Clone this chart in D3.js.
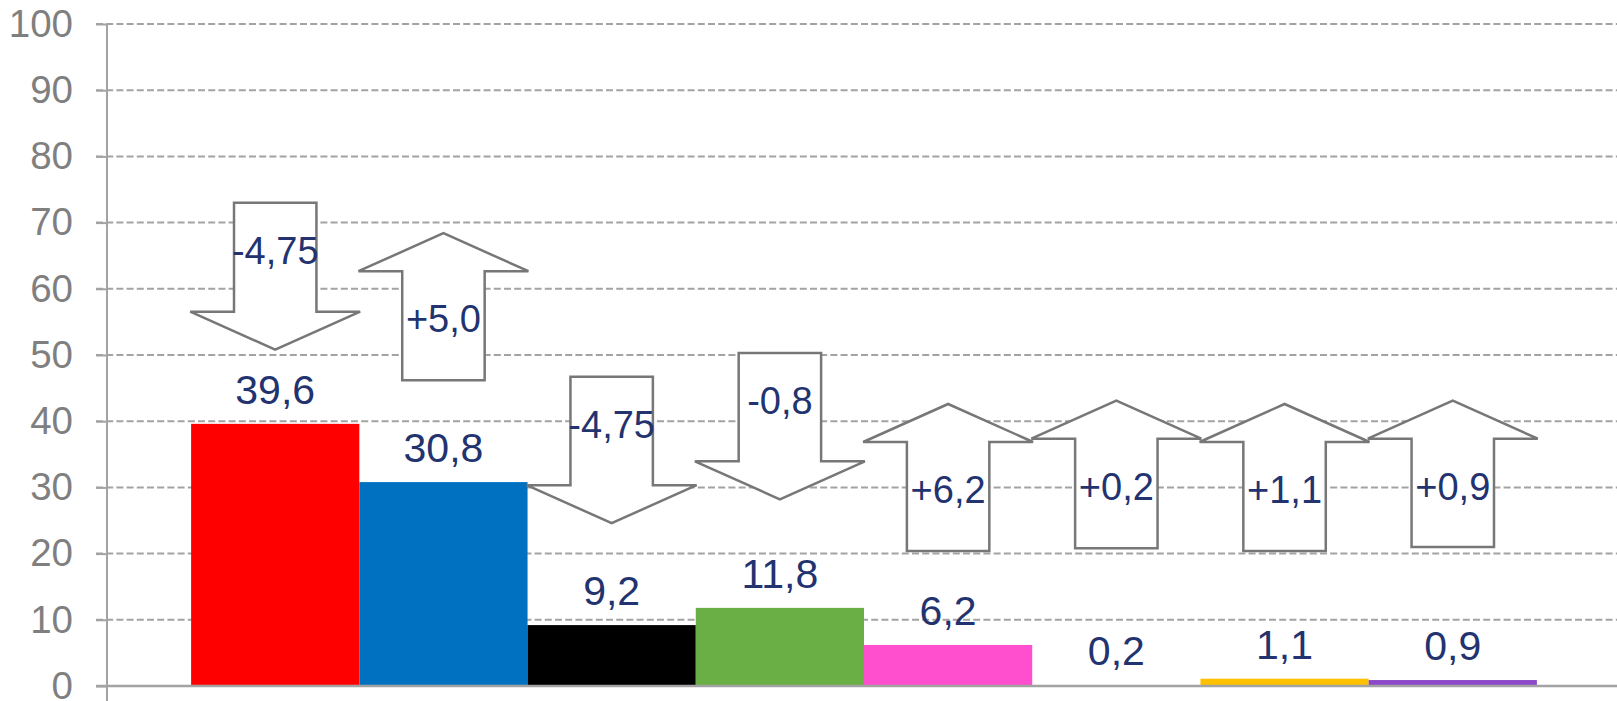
<!DOCTYPE html>
<html>
<head>
<meta charset="utf-8">
<script src="https://cdn.jsdelivr.net/npm/d3@7"></script>
<style>
  html, body { margin: 0; padding: 0; background: #fff; }
  svg { display: block; font-family: "Liberation Sans", Arial, sans-serif; }
</style>
</head>
<body>
<svg id="chart" width="1617" height="701"></svg>
<script>
// bars
const categories = ["c1", "c2", "c3", "c4", "c5", "c6", "c7", "c8"];
const values = [39.6, 30.8, 9.2, 11.8, 6.2, 0.2, 1.1, 0.9];
const barColors = ["#ff0000", "#0070c0", "#000000", "#69af45", "#ff4fcf", "#ffffff", "#ffc000", "#8c48c8"];

// change arrows: tail value -> tip value, and the label shown inside
const arrowFrom = [73.0, 46.2, 46.7, 50.3, 20.4, 20.8, 20.4, 21.0];
const arrowTo = [50.8, 68.4, 24.6, 28.2, 42.6, 43.1, 42.6, 43.1];
const arrowLabels = ["-4,75", "+5,0", "-4,75", "-0,8", "+6,2", "+0,2", "+1,1", "+0,9"];

const yTicks = [0, 10, 20, 30, 40, 50, 60, 70, 80, 90, 100];

const width = 1617;
const height = 701;
const svg = d3.select("#chart");

const x = d3.scaleBand()
    .domain(categories)
    .range([107, 1621])
    .paddingInner(0)
    .paddingOuter(0.5);

const y = d3.scaleLinear()
    .domain([0, 100])
    .range([686, 24]);

const fmt = v => String(v).replace(".", ",");

// gridlines (dashed), zero line drawn separately
svg.append("g")
    .attr("stroke", "#a3a3a3")
    .attr("stroke-width", 2)
    .attr("stroke-dasharray", "7,3.2")
    .selectAll("line")
    .data(yTicks.filter(d => d > 0))
    .enter().append("line")
    .attr("x1", 96)
    .attr("x2", width)
    .attr("y1", d => y(d))
    .attr("y2", d => y(d));

// y axis with tick labels
const yAxis = svg.append("g")
    .attr("transform", "translate(107,0)")
    .call(d3.axisLeft(y).tickValues(yTicks).tickSize(11).tickPadding(23).tickFormat(d => d));
yAxis.select(".domain").remove();
yAxis.selectAll(".tick line").attr("stroke", "#a3a3a3").attr("stroke-width", 2);
yAxis.selectAll(".tick text")
    .attr("fill", "#7f7f7f")
    .attr("font-size", 38.5)
    .attr("font-family", "'Liberation Sans', Arial, sans-serif");

// bars
svg.append("g")
    .selectAll("rect")
    .data(values)
    .enter().append("rect")
    .attr("x", (d, i) => x(categories[i]))
    .attr("width", x.bandwidth())
    .attr("y", d => y(d))
    .attr("height", d => y(0) - y(d))
    .attr("fill", (d, i) => barColors[i]);

// axis lines
svg.append("line")
    .attr("x1", 107).attr("x2", 107)
    .attr("y1", y(100)).attr("y2", height)
    .attr("stroke", "#a3a3a3").attr("stroke-width", 2);
svg.append("line")
    .attr("x1", 96).attr("x2", width)
    .attr("y1", y(0)).attr("y2", y(0))
    .attr("stroke", "#a3a3a3").attr("stroke-width", 2.5);

// value labels
svg.append("g")
    .attr("fill", "#22336f")
    .attr("font-size", 41)
    .attr("text-anchor", "middle")
    .selectAll("text")
    .data(values)
    .enter().append("text")
    .attr("x", (d, i) => x(categories[i]) + x.bandwidth() / 2)
    .attr("y", d => y(d) - 20)
    .text(d => fmt(d));

// block arrows
const headLen = 38;
function arrowPath(i) {
    const cx = x(categories[i]) + x.bandwidth() / 2;
    const half = x.bandwidth() * 0.245;
    const wing = x.bandwidth() * 0.505;
    const tail = y(arrowFrom[i]);
    const tip = y(arrowTo[i]);
    const dir = tip < tail ? -1 : 1;
    const base = tip - dir * headLen;
    return d3.line()([
        [cx - half, tail], [cx - half, base], [cx - wing, base],
        [cx, tip], [cx + wing, base], [cx + half, base], [cx + half, tail]
    ]) + "Z";
}

const arrows = svg.append("g");
arrows.selectAll("path")
    .data(arrowLabels)
    .enter().append("path")
    .attr("d", (d, i) => arrowPath(i))
    .attr("fill", "#fff")
    .attr("stroke", "#777777")
    .attr("stroke-width", 2.5)
    .attr("stroke-linejoin", "miter");

arrows.selectAll("text")
    .data(arrowLabels)
    .enter().append("text")
    .attr("x", (d, i) => x(categories[i]) + x.bandwidth() / 2)
    .attr("y", (d, i) => {
        const tail = y(arrowFrom[i]);
        const tip = y(arrowTo[i]);
        const base = tip < tail ? tip + headLen : tip - headLen;
        return (tail + base) / 2 - 7;
    })
    .attr("dy", "0.36em")
    .attr("text-anchor", "middle")
    .attr("fill", "#22336f")
    .attr("font-size", 38)
    .text(d => d);
</script>
</body>
</html>
